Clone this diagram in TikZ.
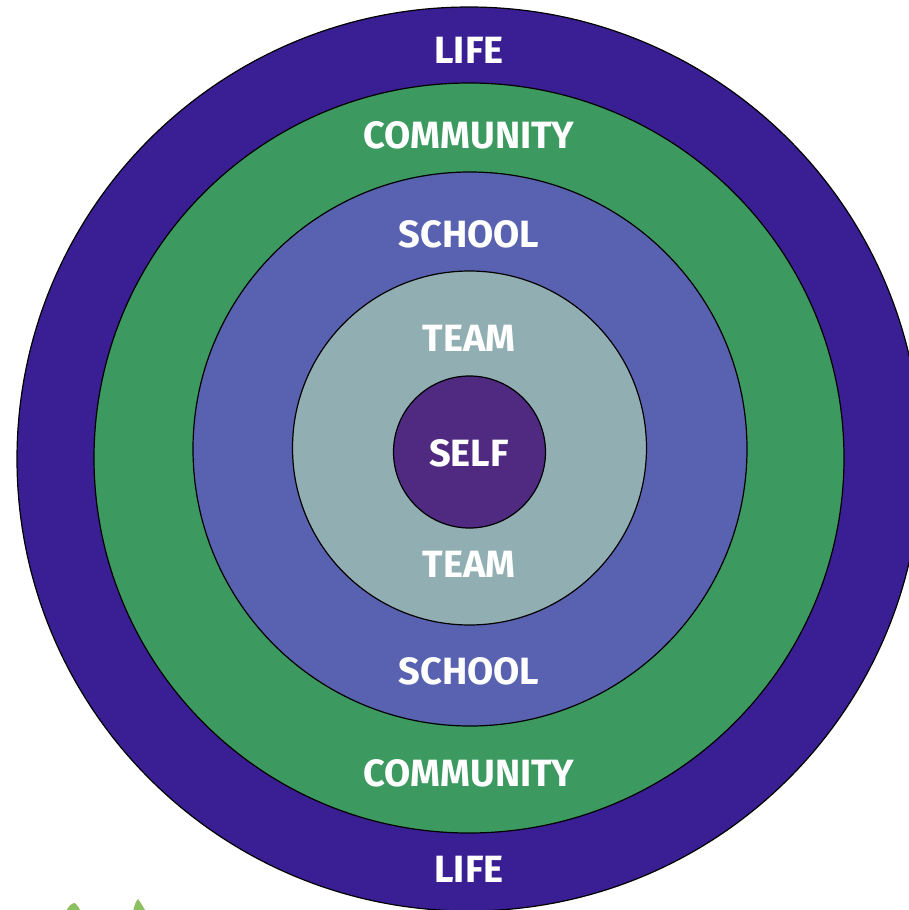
\documentclass[tikz,border=0pt]{standalone}
\usepackage{fontspec}
\setmainfont{Fira Sans}
\definecolor{lifeblue}{RGB}{58,30,148}
\definecolor{communitygreen}{RGB}{60,154,96}
\definecolor{schoolblue}{RGB}{88,98,176}
\definecolor{teamgrey}{RGB}{145,175,178}
\definecolor{selfpurple}{RGB}{80,42,128}
\definecolor{leafgreen}{RGB}{140,192,96}
\tikzset{
    ring/.style = {circle, draw = black, line width = 0.6pt, inner sep = 0pt},
    ringtext/.style = {text = white, inner sep = 0pt, text depth = 0pt,
        font = \bfseries\fontsize{19}{19}\selectfont}
}

\begin{document}
\begin{tikzpicture}[x = 0.5pt, y = -0.5pt]
    \useasboundingbox (0, 0) rectangle (909, 910);
    \clip (0, 0) rectangle (909, 910);

    % rings, outside in
    \node[ring, fill = lifeblue, minimum size = 452pt] (life) at (469, 459) {};
    \node[ring, fill = communitygreen, minimum size = 375pt] (community) at (469, 458) {};
    \node[ring, fill = schoolblue, minimum size = 277pt] (school) at (470, 449) {};
    \node[ring, fill = teamgrey, minimum size = 177pt] (team) at (469.5, 448) {};
    \node[ring, fill = selfpurple, minimum size = 76pt] (self) at (469.5, 452) {};

    % labels
    \node[ringtext] (life top) at (469, 50) {LIFE};
    \node[ringtext] (community top) at (469, 135) {COMMUNITY};
    \node[ringtext] (school top) at (469, 234) {SCHOOL};
    \node[ringtext] (team top) at (469, 338) {TEAM};
    \node[ringtext] (self label) at (469, 453) {SELF};
    \node[ringtext] (team bottom) at (469, 564) {TEAM};
    \node[ringtext] (school bottom) at (469, 671) {SCHOOL};
    \node[ringtext] (community bottom) at (469, 773) {COMMUNITY};
    \node[ringtext] (life bottom) at (469, 869) {LIFE};

    % leaf tips at the lower left edge
    \fill[leafgreen] (66, 912) .. controls (68, 906) and (72, 903) .. (75, 903)
        .. controls (78, 906) and (80, 909) .. (81, 912) -- cycle;
    \fill[leafgreen] (133, 912) .. controls (134, 906) and (136, 901) .. (138, 899)
        .. controls (141, 903) and (144, 908) .. (146, 912) -- cycle;
\end{tikzpicture}
\end{document}
